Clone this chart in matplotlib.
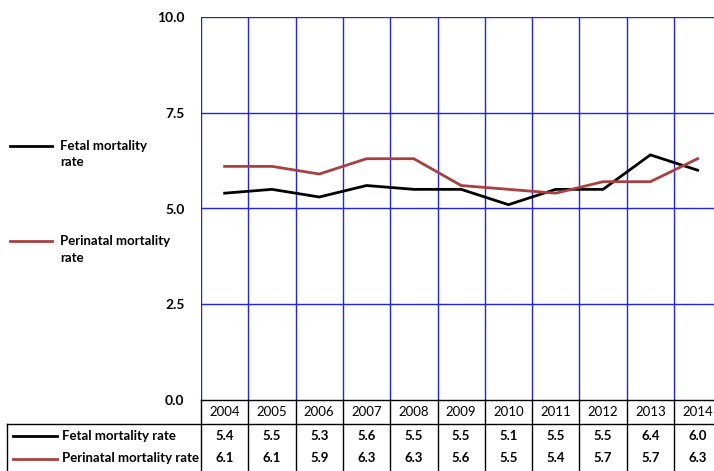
import matplotlib.pyplot as plt
from matplotlib.lines import Line2D
from matplotlib.transforms import blended_transform_factory

plt.rcParams["font.family"] = ["Lato", "DejaVu Sans"]

years = ["2004", "2005", "2006", "2007", "2008", "2009", "2010", "2011", "2012", "2013", "2014"]
fetal = [5.4, 5.5, 5.3, 5.6, 5.5, 5.5, 5.1, 5.5, 5.5, 6.4, 6.0]
perinatal = [6.1, 6.1, 5.9, 6.3, 6.3, 5.6, 5.5, 5.4, 5.7, 5.7, 6.3]
series_names = ["Fetal mortality rate", "Perinatal mortality rate"]
legend_names = ["Fetal mortality\nrate", "Perinatal mortality\nrate"]
series_colors = ["#000000", "#A8403E"]
yticks = [0.0, 2.5, 5.0, 7.5, 10.0]

W, H = 714, 471
fig = plt.figure(figsize=(W / 100, H / 100), dpi=100)

# plot area in pixels: left 201, top 17, bottom 400, column width ~47.3
left, top, bottom, colw = 201, 17, 400, 47.3
ax = fig.add_axes([left / W, (H - bottom) / H, colw * len(years) / W, (bottom - top) / H])

x = list(range(len(years)))
for vals, c in zip([fetal, perinatal], series_colors):
    ax.plot(x, vals, color=c, lw=2, solid_joinstyle="miter", zorder=3)

ax.set_xlim(-0.5, len(years) - 0.5)
ax.set_ylim(0, 10)
ax.set_xticks([])
ax.set_yticks(yticks)
ax.set_yticklabels([f"{v:.1f}" for v in yticks], fontweight="bold", fontsize=10)
ax.tick_params(axis="y", length=0, pad=12)
for s in ax.spines.values():
    s.set_visible(False)

grid_c = "#1F1FFF"
for v in yticks[1:]:
    ax.axhline(v, color=grid_c, lw=1, zorder=1)
for i in range(len(years) + 1):
    ax.axvline(i - 0.5, color=grid_c, lw=1, zorder=1)

# data table below the plot
tr = blended_transform_factory(ax.transData, ax.transAxes)
ph = bottom - top
row_h = [24 / ph, 23 / ph, 24 / ph]
y_hdr_top = 0.0
y_r1_top = -row_h[0]
y_bot = -(row_h[0] + row_h[1] + row_h[2])
lk = dict(color="black", lw=1, transform=tr, clip_on=False)

ax.add_line(Line2D([-0.5, len(years) - 0.5], [y_hdr_top, y_hdr_top], **lk))
for i in range(len(years) + 1):
    ax.add_line(Line2D([i - 0.5, i - 0.5], [y_hdr_top, y_bot], **lk))

# left border of the data rows, at x = 7 px
x_left_data = -0.5 - (left - 7) / colw
ax.add_line(Line2D([x_left_data, len(years) - 0.5], [y_r1_top, y_r1_top], **lk))
ax.add_line(Line2D([x_left_data, x_left_data], [y_r1_top, y_bot], **lk))

fs = 9.5
for i, yr in enumerate(years):
    ax.text(i, -row_h[0] / 2, yr, transform=tr, ha="center", va="center", fontsize=fs)

for r, (name, vals, c) in enumerate(zip(series_names, [fetal, perinatal], series_colors)):
    yc = y_r1_top - row_h[1] / 2 - r * row_h[1]
    for i, v in enumerate(vals):
        ax.text(i, yc, f"{v:.1f}", transform=tr, ha="center", va="center",
                fontsize=fs, fontweight="bold")
    kx0 = x_left_data + 6 / colw
    kx1 = x_left_data + 50 / colw
    ax.add_line(Line2D([kx0, kx1], [yc, yc], color=c, lw=2, transform=tr, clip_on=False))
    ax.text(x_left_data + 55 / colw, yc, name, transform=tr, ha="left", va="center",
            fontsize=fs, fontweight="bold")

# legend on the left
legend_y = [146, 241]
for name, c, ly in zip(legend_names, series_colors, legend_y):
    fy = 1 - ly / H
    fig.add_artist(Line2D([10 / W, 52 / W], [fy, fy], color=c, lw=2))
    fig.text(60 / W, fy + 6 / H, name, ha="left", va="top", fontsize=fs,
             fontweight="bold", linespacing=1.45)

fig.savefig("out.png", dpi=100)
